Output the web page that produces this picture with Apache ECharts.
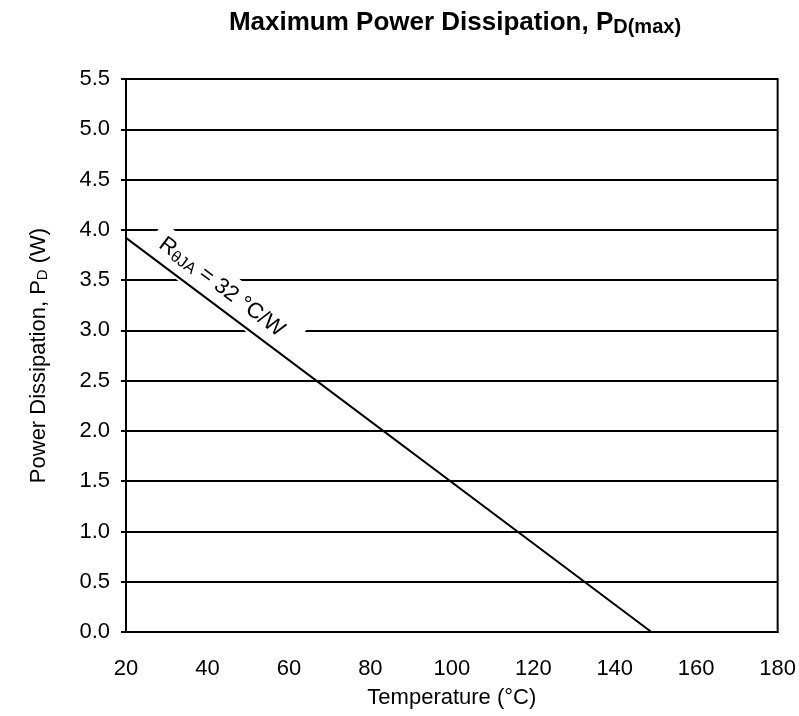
<!DOCTYPE html>
<html>
<head>
<meta charset="utf-8">
<script src="https://cdn.jsdelivr.net/npm/echarts@6/dist/echarts.min.js"></script>
<style>
html, body { margin: 0; padding: 0; background: #fff; }
#main { width: 799px; height: 716px; }
</style>
</head>
<body>
<div id="main"></div>
<script>
// temperature (°C) vs max power dissipation (W)
var tempPoints = [20, 149];
var powerPoints = [3.92, 0];
var xTicks = [20, 180, 20];   // min, max, step
var yTicks = [0, 5.5, 0.5];
var labelAt = [44, 3.39];     // centre of the R label (data coords)

var font = 'Liberation Sans, Arial, sans-serif';
var chart = echarts.init(document.getElementById('main'));

var lineData = [];
for (var i = 0; i < tempPoints.length; i++) {
	lineData.push([tempPoints[i], powerPoints[i]]);
}

var option = {
	animation: false,
	backgroundColor: '#fff',
	title: {
		text: '{a|Maximum Power Dissipation, P}{s|D(max)}',
		left: 455,
		top: 10,
		padding: 0,
		textAlign: 'center',
		textStyle: {
			rich: {
				a: { fontFamily: font, fontSize: 26, fontWeight: 'bold', color: '#000', verticalAlign: 'top', lineHeight: 30 },
				s: { fontFamily: font, fontSize: 20, fontWeight: 'bold', color: '#000', verticalAlign: 'top', padding: [7, 0, 0, 0], lineHeight: 30 }
			}
		}
	},
	grid: {
		left: 126,
		right: 21,
		top: 79,
		bottom: 84
	},
	xAxis: {
		type: 'value',
		min: xTicks[0],
		max: xTicks[1],
		interval: xTicks[2],
		name: 'Temperature (°C)',
		nameLocation: 'middle',
		nameGap: 55,
		nameTextStyle: { fontFamily: font, fontSize: 22, color: '#000' },
		axisLine: { lineStyle: { color: '#000', width: 2 } },
		axisTick: { show: false },
		axisLabel: { fontFamily: font, fontSize: 22, color: '#000', margin: 26 },
		splitLine: { show: false }
	},
	yAxis: {
		type: 'value',
		min: yTicks[0],
		max: yTicks[1],
		interval: yTicks[2],
		name: '{a|Power Dissipation, P}{s|D}{a| (W)}',
		nameLocation: 'middle',
		nameGap: 72,
		nameTextStyle: {
			rich: {
				a: { fontFamily: font, fontSize: 22, color: '#000', verticalAlign: 'top', lineHeight: 26 },
				s: { fontFamily: font, fontSize: 15, color: '#000', verticalAlign: 'top', padding: [7, 0, 0, 0], lineHeight: 26 }
			}
		},
		axisLine: { show: true, lineStyle: { color: '#000', width: 2 } },
		axisTick: { show: true, length: 5, lineStyle: { color: '#000', width: 2 } },
		axisLabel: {
			fontFamily: font, fontSize: 22, color: '#000', margin: 16,
			formatter: function (v) { return v.toFixed(1); }
		},
		splitLine: { show: true, lineStyle: { color: '#000', width: 2 } }
	},
	series: [{
		type: 'line',
		data: lineData,
		symbol: 'none',
		lineStyle: { color: '#000', width: 2 },
		z: 5
	}]
};
chart.setOption(option);

// right border of plot
var tr = chart.convertToPixel('grid', [xTicks[1], yTicks[1]]);
var br = chart.convertToPixel('grid', [xTicks[1], yTicks[0]]);

// label rotated along the line, white box hides the grid lines under it
var p0 = chart.convertToPixel('grid', lineData[0]);
var p1 = chart.convertToPixel('grid', lineData[1]);
var ang = Math.atan2(p1[1] - p0[1], p1[0] - p0[0]);
var lp = chart.convertToPixel('grid', labelAt);

chart.setOption({
	graphic: [
		{
			type: 'line',
			shape: { x1: tr[0], y1: tr[1] - 1, x2: br[0], y2: br[1] + 1 },
			style: { stroke: '#000', lineWidth: 2 },
			z: 10
		},
		{
			type: 'text',
			x: lp[0],
			y: lp[1],
			rotation: -ang,
			z: 1,
			style: {
				text: '{a|R}{s|θJA}{a| = 32 °C/W}',
				align: 'center',
				verticalAlign: 'middle',
				backgroundColor: '#fff',
				padding: [6, 18, 6, 10],
				rich: {
					a: { fontFamily: font, fontSize: 22, fill: '#000', verticalAlign: 'top', lineHeight: 26 },
					s: { fontFamily: font, fontSize: 16, fill: '#000', verticalAlign: 'top', padding: [7, 0, 0, 0], lineHeight: 26 }
				}
			}
		}
	]
});

window.addEventListener('resize', chart.resize);
</script>
</body>
</html>
